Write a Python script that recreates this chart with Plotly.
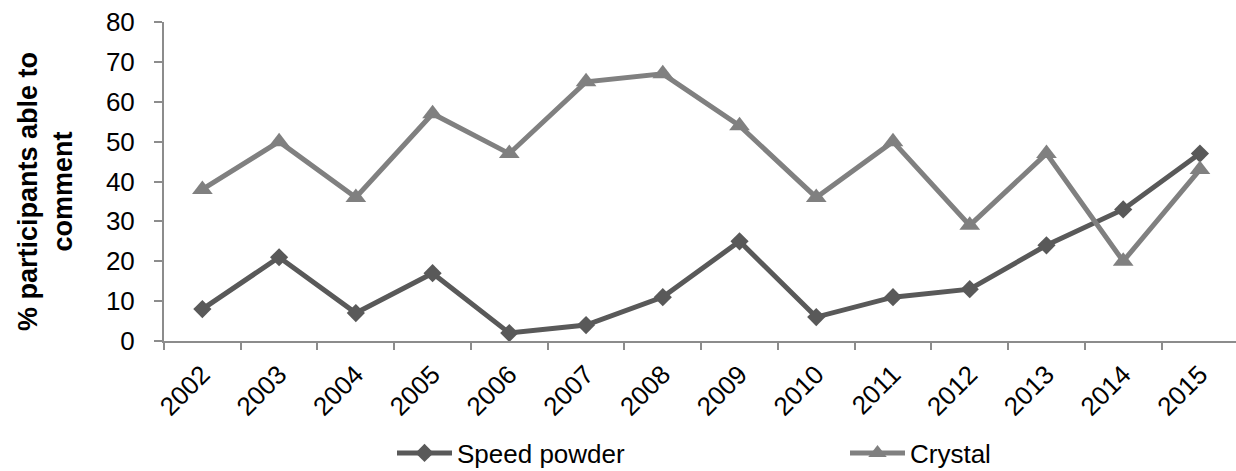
import plotly.graph_objects as go

years = ["2002", "2003", "2004", "2005", "2006", "2007", "2008",
         "2009", "2010", "2011", "2012", "2013", "2014", "2015"]
speed_powder = [8, 21, 7, 17, 2, 4, 11, 25, 6, 11, 13, 24, 33, 47]
crystal = [38, 50, 36, 57, 47, 65, 67, 54, 36, 50, 29, 47, 20, 43]
y_title = "% participants able to<br>comment"

FONT = "Liberation Sans, Arial, sans-serif"
AXIS_COLOR = "#8c8c8c"
W, H = 1236, 471

fig = go.Figure()
fig.add_trace(go.Scatter(
    x=years, y=speed_powder, name="Speed powder", mode="lines+markers",
    line=dict(color="#595959", width=5),
    marker=dict(symbol="diamond", size=14, color="#595959"),
    legend="legend",
))
fig.add_trace(go.Scatter(
    x=years, y=crystal, name="Crystal", mode="lines+markers",
    line=dict(color="#808080", width=5),
    marker=dict(symbol="triangle-up", size=18, color="#808080"),
    legend="legend2",
))

legend_common = dict(
    orientation="h", xref="container", yref="container",
    xanchor="left", yanchor="middle", y=1 - 453 / H,
    font=dict(size=26), bgcolor="rgba(0,0,0,0)", borderwidth=0,
    itemwidth=55,
)

# vertical axis title placed as a rotated annotation
fig.add_annotation(
    text=f"<b>{y_title}</b>", textangle=-90,
    xref="paper", yref="paper", x=-(164 - 45) / (W - 164), y=0.5 - (192 - 181.5) / 319,
    xanchor="center", yanchor="middle", showarrow=False,
    font=dict(size=27, family=FONT, color="black"),
)

fig.update_layout(
    width=W, height=H,
    margin=dict(l=164, r=0, t=22, b=130, autoexpand=False),
    paper_bgcolor="white", plot_bgcolor="white",
    font=dict(family=FONT, size=26, color="black"),
    showlegend=True,
    legend=dict(x=(397 - 5) / W, **legend_common),
    legend2=dict(x=(850 - 5) / W, **legend_common),
    xaxis=dict(
        type="category", range=[-0.5, 13.47],
        showline=True, linecolor=AXIS_COLOR, linewidth=2,
        ticks="outside", tickson="boundaries", ticklen=7, tickwidth=2,
        tickcolor=AXIS_COLOR, tickangle=-45, showgrid=False, zeroline=False,
        tickfont=dict(size=26), ticklabelstandoff=6,
    ),
    yaxis=dict(
        range=[0, 80], tickvals=list(range(0, 81, 10)),
        showline=True, linecolor=AXIS_COLOR, linewidth=2,
        ticks="outside", ticklen=8, tickwidth=2, tickcolor=AXIS_COLOR,
        showgrid=False, zeroline=False, tickfont=dict(size=26),
        ticklabelstandoff=14,
    ),
)

fig.write_html("out.html")
